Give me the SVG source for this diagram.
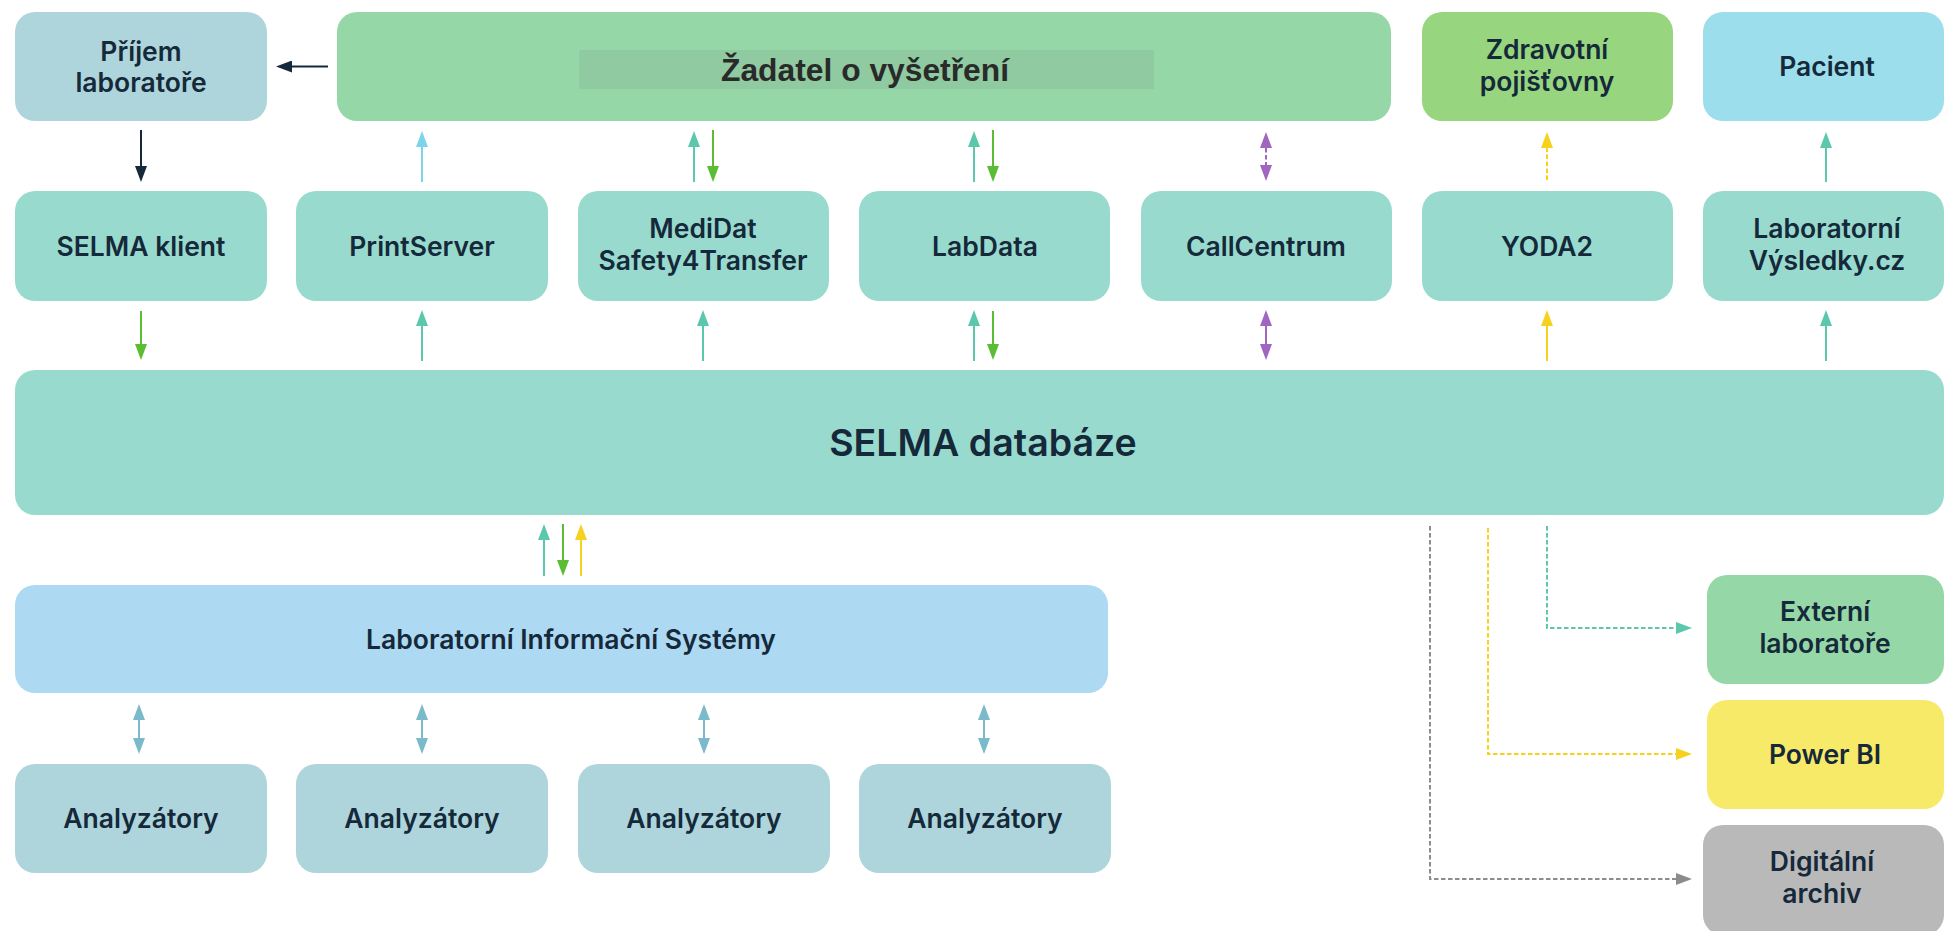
<svg xmlns="http://www.w3.org/2000/svg" width="1944" height="931" viewBox="0 0 1944 931">
<defs>
<style>
.t{font-family:Inter,"Noto Sans","Liberation Sans",sans-serif;font-weight:600;font-size:26.5px;fill:#15293A;text-anchor:middle}
.big{font-size:37.5px}
.zad{font-family:"Liberation Sans Narrow","Arial Narrow","Liberation Sans",sans-serif;font-weight:700;font-size:32px;fill:#2A2A2A;text-anchor:middle}
.c{fill:none;stroke-width:2}
.d{stroke-dasharray:4.5 2.5}
.teal{fill:#98DBCE}.grey{fill:#ADD5DB}.lgreen{fill:#96D7A8}.ygreen{fill:#97D67E}.sky{fill:#9CDEEC}.lis{fill:#ADD9F2}.yel{fill:#F7EA69}.gry{fill:#B9B9B9}
</style>
<marker id="aNavy" viewBox="0 0 16 12" refX="0" refY="6" markerWidth="16" markerHeight="12" markerUnits="userSpaceOnUse" orient="auto-start-reverse"><path d="M0,0L16,6L0,12z" fill="#15293A"/></marker>
<marker id="aSky" viewBox="0 0 16 12" refX="0" refY="6" markerWidth="16" markerHeight="12" markerUnits="userSpaceOnUse" orient="auto-start-reverse"><path d="M0,0L16,6L0,12z" fill="#7DD3EA"/></marker>
<marker id="aTeal" viewBox="0 0 16 12" refX="0" refY="6" markerWidth="16" markerHeight="12" markerUnits="userSpaceOnUse" orient="auto-start-reverse"><path d="M0,0L16,6L0,12z" fill="#5BC8AE"/></marker>
<marker id="aGreen" viewBox="0 0 16 12" refX="0" refY="6" markerWidth="16" markerHeight="12" markerUnits="userSpaceOnUse" orient="auto-start-reverse"><path d="M0,0L16,6L0,12z" fill="#5BBD34"/></marker>
<marker id="aPurp" viewBox="0 0 16 12" refX="0" refY="6" markerWidth="16" markerHeight="12" markerUnits="userSpaceOnUse" orient="auto-start-reverse"><path d="M0,0L16,6L0,12z" fill="#A066C0"/></marker>
<marker id="aYel" viewBox="0 0 16 12" refX="0" refY="6" markerWidth="16" markerHeight="12" markerUnits="userSpaceOnUse" orient="auto-start-reverse"><path d="M0,0L16,6L0,12z" fill="#F6D21E"/></marker>
<marker id="aLis" viewBox="0 0 16 12" refX="0" refY="6" markerWidth="16" markerHeight="12" markerUnits="userSpaceOnUse" orient="auto-start-reverse"><path d="M0,0L16,6L0,12z" fill="#7BBACB"/></marker>
<marker id="aGrey" viewBox="0 0 16 12" refX="0" refY="6" markerWidth="16" markerHeight="12" markerUnits="userSpaceOnUse" orient="auto-start-reverse"><path d="M0,0L16,6L0,12z" fill="#8C8C8C"/></marker>
</defs>
<rect width="1944" height="931" fill="#FFFFFF"/>

<g id="prijem"><rect class="grey" x="15" y="12" width="252" height="109" rx="20"/><text class="t" x="141" y="61">Příjem</text><text class="t" x="141" y="92">laboratoře</text></g>
<g id="zadatel"><rect class="lgreen" x="337" y="12" width="1054" height="109" rx="20"/><rect x="579" y="50" width="575" height="39" fill="#8FCAA1"/><text class="zad" x="865" y="81" textLength="288" lengthAdjust="spacingAndGlyphs">Žadatel o vyšetření</text></g>
<g id="zdravotni"><rect class="ygreen" x="1422" y="12" width="251" height="109" rx="20"/><text class="t" x="1547" y="59">Zdravotní</text><text class="t" x="1547" y="91">pojišťovny</text></g>
<g id="pacient"><rect class="sky" x="1703" y="12" width="241" height="109" rx="20"/><text class="t" x="1827" y="76">Pacient</text></g>

<g id="selma-klient"><rect class="teal" x="15" y="191" width="252" height="110" rx="20"/><text class="t" x="141" y="256">SELMA klient</text></g>
<g id="printserver"><rect class="teal" x="296" y="191" width="252" height="110" rx="20"/><text class="t" x="422" y="256">PrintServer</text></g>
<g id="medidat"><rect class="teal" x="578" y="191" width="251" height="110" rx="20"/><text class="t" x="703" y="238">MediDat</text><text class="t" x="703" y="270">Safety4Transfer</text></g>
<g id="labdata"><rect class="teal" x="859" y="191" width="251" height="110" rx="20"/><text class="t" x="985" y="256">LabData</text></g>
<g id="callcentrum"><rect class="teal" x="1141" y="191" width="251" height="110" rx="20"/><text class="t" x="1266" y="256">CallCentrum</text></g>
<g id="yoda2"><rect class="teal" x="1422" y="191" width="251" height="110" rx="20"/><text class="t" x="1547" y="256">YODA2</text></g>
<g id="labvysledky"><rect class="teal" x="1703" y="191" width="241" height="110" rx="20"/><text class="t" x="1827" y="238">Laboratorní</text><text class="t" x="1827" y="270">Výsledky.cz</text></g>

<g id="selma-db"><rect class="teal" x="15" y="370" width="1929" height="145" rx="20"/><text class="t big" x="983" y="456">SELMA databáze</text></g>

<g id="lis"><rect class="lis" x="15" y="585" width="1093" height="108" rx="20"/><text class="t" x="571" y="649">Laboratorní Informační Systémy</text></g>

<g id="analyzatory1"><rect class="grey" x="15" y="764" width="252" height="109" rx="20"/><text class="t" x="141" y="828">Analyzátory</text></g>
<g id="analyzatory2"><rect class="grey" x="296" y="764" width="252" height="109" rx="20"/><text class="t" x="422" y="828">Analyzátory</text></g>
<g id="analyzatory3"><rect class="grey" x="578" y="764" width="252" height="109" rx="20"/><text class="t" x="704" y="828">Analyzátory</text></g>
<g id="analyzatory4"><rect class="grey" x="859" y="764" width="252" height="109" rx="20"/><text class="t" x="985" y="828">Analyzátory</text></g>

<g id="externi"><rect class="lgreen" x="1707" y="575" width="237" height="109" rx="20"/><text class="t" x="1825" y="621">Externí</text><text class="t" x="1825" y="653">laboratoře</text></g>
<g id="powerbi"><rect class="yel" x="1707" y="700" width="237" height="109" rx="20"/><text class="t" x="1825" y="764">Power BI</text></g>
<g id="archiv"><rect class="gry" x="1703" y="825" width="241" height="110" rx="20"/><text class="t" x="1822" y="871">Digitální</text><text class="t" x="1822" y="903">archiv</text></g>

<g id="connectors">
<path class="c" stroke="#15293A" d="M328,66.5H292" marker-end="url(#aNavy)"/>
<path class="c" stroke="#15293A" d="M141,130V166" marker-end="url(#aNavy)"/>
<path class="c" stroke="#7DD3EA" d="M422,182V147" marker-end="url(#aSky)"/>
<path class="c" stroke="#5BC8AE" d="M694,182V147" marker-end="url(#aTeal)"/>
<path class="c" stroke="#5BBD34" d="M713,130V166" marker-end="url(#aGreen)"/>
<path class="c" stroke="#5BC8AE" d="M974,182V147" marker-end="url(#aTeal)"/>
<path class="c" stroke="#5BBD34" d="M993,130V166" marker-end="url(#aGreen)"/>
<path class="c d" stroke="#A066C0" d="M1266,148V165" marker-start="url(#aPurp)" marker-end="url(#aPurp)"/>
<path class="c d" stroke="#F6D21E" d="M1547,180V148" marker-end="url(#aYel)"/>
<path class="c" stroke="#5BC8AE" d="M1826,182V148" marker-end="url(#aTeal)"/>

<path class="c" stroke="#5BBD34" d="M141,311V344" marker-end="url(#aGreen)"/>
<path class="c" stroke="#5BC8AE" d="M422,361V326" marker-end="url(#aTeal)"/>
<path class="c" stroke="#5BC8AE" d="M703,361V326" marker-end="url(#aTeal)"/>
<path class="c" stroke="#5BC8AE" d="M974,361V326" marker-end="url(#aTeal)"/>
<path class="c" stroke="#5BBD34" d="M993,311V344" marker-end="url(#aGreen)"/>
<path class="c" stroke="#A066C0" d="M1266,326V344" marker-start="url(#aPurp)" marker-end="url(#aPurp)"/>
<path class="c" stroke="#F6D21E" d="M1547,361V326" marker-end="url(#aYel)"/>
<path class="c" stroke="#5BC8AE" d="M1826,361V326" marker-end="url(#aTeal)"/>

<path class="c" stroke="#5BC8AE" d="M544,576V540" marker-end="url(#aTeal)"/>
<path class="c" stroke="#5BBD34" d="M563,524V560" marker-end="url(#aGreen)"/>
<path class="c" stroke="#F6D21E" d="M581,576V540" marker-end="url(#aYel)"/>

<path class="c" stroke="#7BBACB" stroke-width="1.5" d="M139,720V738" marker-start="url(#aLis)" marker-end="url(#aLis)"/>
<path class="c" stroke="#7BBACB" stroke-width="1.5" d="M422,720V738" marker-start="url(#aLis)" marker-end="url(#aLis)"/>
<path class="c" stroke="#7BBACB" stroke-width="1.5" d="M704,720V738" marker-start="url(#aLis)" marker-end="url(#aLis)"/>
<path class="c" stroke="#7BBACB" stroke-width="1.5" d="M984,720V738" marker-start="url(#aLis)" marker-end="url(#aLis)"/>

<path class="c d" stroke="#5BC8AE" d="M1547,526V628H1676" marker-end="url(#aTeal)"/>
<path class="c d" stroke="#F6D21E" d="M1488,528V754H1676" marker-end="url(#aYel)"/>
<path class="c d" stroke="#8C8C8C" d="M1430,526V879H1676" marker-end="url(#aGrey)"/>
</g>
</svg>
